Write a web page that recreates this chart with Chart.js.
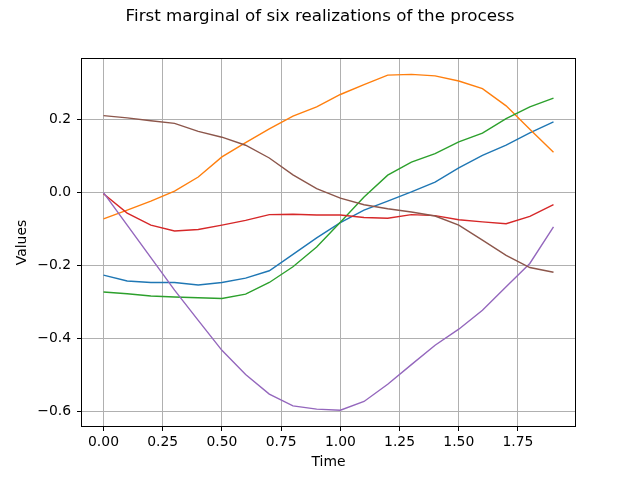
<!DOCTYPE html>
<html>
<head>
<meta charset="utf-8">
<script src="https://cdn.jsdelivr.net/npm/chart.js@4"></script>
<style>
  html, body { margin: 0; padding: 0; background: #ffffff; }
  canvas { display: block; }
</style>
</head>
<body>
<canvas id="c" width="640" height="480"></canvas>
<script>
const titleText = "First marginal of six realizations of the process";
const xLabel = "Time";
const yLabel = "Values";
const times = [0.0, 0.1, 0.2, 0.3, 0.4, 0.5, 0.6, 0.7, 0.8, 0.9, 1.0, 1.1, 1.2, 1.3, 1.4, 1.5, 1.6, 1.7, 1.8, 1.9];
const xTicks = [0, 0.25, 0.5, 0.75, 1.0, 1.25, 1.5, 1.75];
const yTicks = [-0.6, -0.4, -0.2, 0.0, 0.2];

const series1 = [-0.227, -0.243, -0.247, -0.247, -0.254, -0.247, -0.235, -0.215, -0.170, -0.125, -0.083, -0.049, -0.024, 0.001, 0.028, 0.067, 0.101, 0.129, 0.163, 0.193];
const series2 = [-0.073, -0.049, -0.024, 0.003, 0.042, 0.097, 0.136, 0.174, 0.209, 0.234, 0.268, 0.295, 0.321, 0.323, 0.319, 0.305, 0.284, 0.237, 0.173, 0.110];
const series3 = [-0.273, -0.278, -0.284, -0.287, -0.289, -0.291, -0.279, -0.247, -0.204, -0.150, -0.082, -0.013, 0.047, 0.083, 0.106, 0.138, 0.162, 0.202, 0.234, 0.258];
const series4 = [-0.004, -0.057, -0.090, -0.106, -0.102, -0.090, -0.077, -0.061, -0.060, -0.062, -0.062, -0.069, -0.071, -0.061, -0.064, -0.075, -0.081, -0.086, -0.066, -0.034];
const series5 = [-0.001, -0.090, -0.179, -0.268, -0.351, -0.433, -0.499, -0.553, -0.585, -0.594, -0.597, -0.573, -0.526, -0.472, -0.419, -0.375, -0.323, -0.259, -0.195, -0.095];
const series6 = [0.210, 0.204, 0.196, 0.189, 0.167, 0.151, 0.129, 0.094, 0.048, 0.010, -0.016, -0.034, -0.045, -0.054, -0.065, -0.090, -0.131, -0.173, -0.206, -0.219];

const allSeries = [series1, series2, series3, series4, series5, series6];
const colors = ['#1f77b4', '#ff7f0e', '#2ca02c', '#d62728', '#9467bd', '#8c564b'];
const FONT = "'DejaVu Sans', 'Liberation Sans', sans-serif";

const datasets = allSeries.map((s, i) => ({
  data: s.map((v, j) => ({ x: times[j], y: v })),
  borderColor: colors[i],
  backgroundColor: colors[i],
  borderWidth: 1.4,
  pointRadius: 0,
  tension: 0,
  fill: false,
  order: allSeries.length - 1 - i
}));

const fmtMinus = s => s.replace('-', '\u2212');

const framePlugin = {
  id: 'frame',
  afterDraw(chart) {
    const { ctx, chartArea: a } = chart;
    ctx.save();
    ctx.strokeStyle = '#000000';
    ctx.lineWidth = 1;
    ctx.strokeRect(Math.round(a.left) + 0.5, Math.round(a.top) + 0.5,
                   Math.round(a.right - a.left) - 1, Math.round(a.bottom - a.top) - 1);
    ctx.fillStyle = '#000000';
    ctx.font = "16.7px " + FONT;
    ctx.textAlign = 'center';
    ctx.textBaseline = 'middle';
    ctx.fillText(titleText, 320, 17);
    ctx.restore();
  }
};

new Chart(document.getElementById('c'), {
  type: 'line',
  data: { datasets },
  options: {
    responsive: false,
    devicePixelRatio: 1,
    animation: false,
    layout: { padding: { top: 58, right: 64, bottom: 0, left: 0 } },
    plugins: { legend: { display: false }, tooltip: { enabled: false }, title: { display: false } },
    scales: {
      x: {
        type: 'linear',
        min: -0.095,
        max: 1.995,
        afterBuildTicks: s => { s.ticks = xTicks.map(v => ({ value: v })); },
        afterFit: s => { s.height = 53; },
        ticks: {
          autoSkip: false,
          maxRotation: 0,
          color: '#000000',
          padding: 3,
          font: { family: FONT, size: 13.9 },
          callback: v => fmtMinus(Number(v).toFixed(2))
        },
        grid: { color: '#b0b0b0', lineWidth: 1, tickColor: '#000000', tickLength: 4 },
        border: { display: false },
        title: { display: true, text: xLabel, color: '#000000', font: { family: FONT, size: 13.9 }, padding: { top: 0, bottom: 9.5 } }
      },
      y: {
        type: 'linear',
        min: -0.643,
        max: 0.368,
        afterBuildTicks: s => { s.ticks = yTicks.map(v => ({ value: v })); },
        afterFit: s => { s.width = 81; },
        ticks: {
          autoSkip: false,
          color: '#000000',
          padding: 6,
          font: { family: FONT, size: 13.9 },
          callback: v => fmtMinus(Number(v).toFixed(1))
        },
        grid: { color: '#b0b0b0', lineWidth: 1, tickColor: '#000000', tickLength: 4 },
        border: { display: false },
        title: { display: true, text: yLabel, color: '#000000', font: { family: FONT, size: 13.9 }, padding: { top: 14.5, bottom: 0 } }
      }
    }
  },
  plugins: [framePlugin]
});
</script>
</body>
</html>
